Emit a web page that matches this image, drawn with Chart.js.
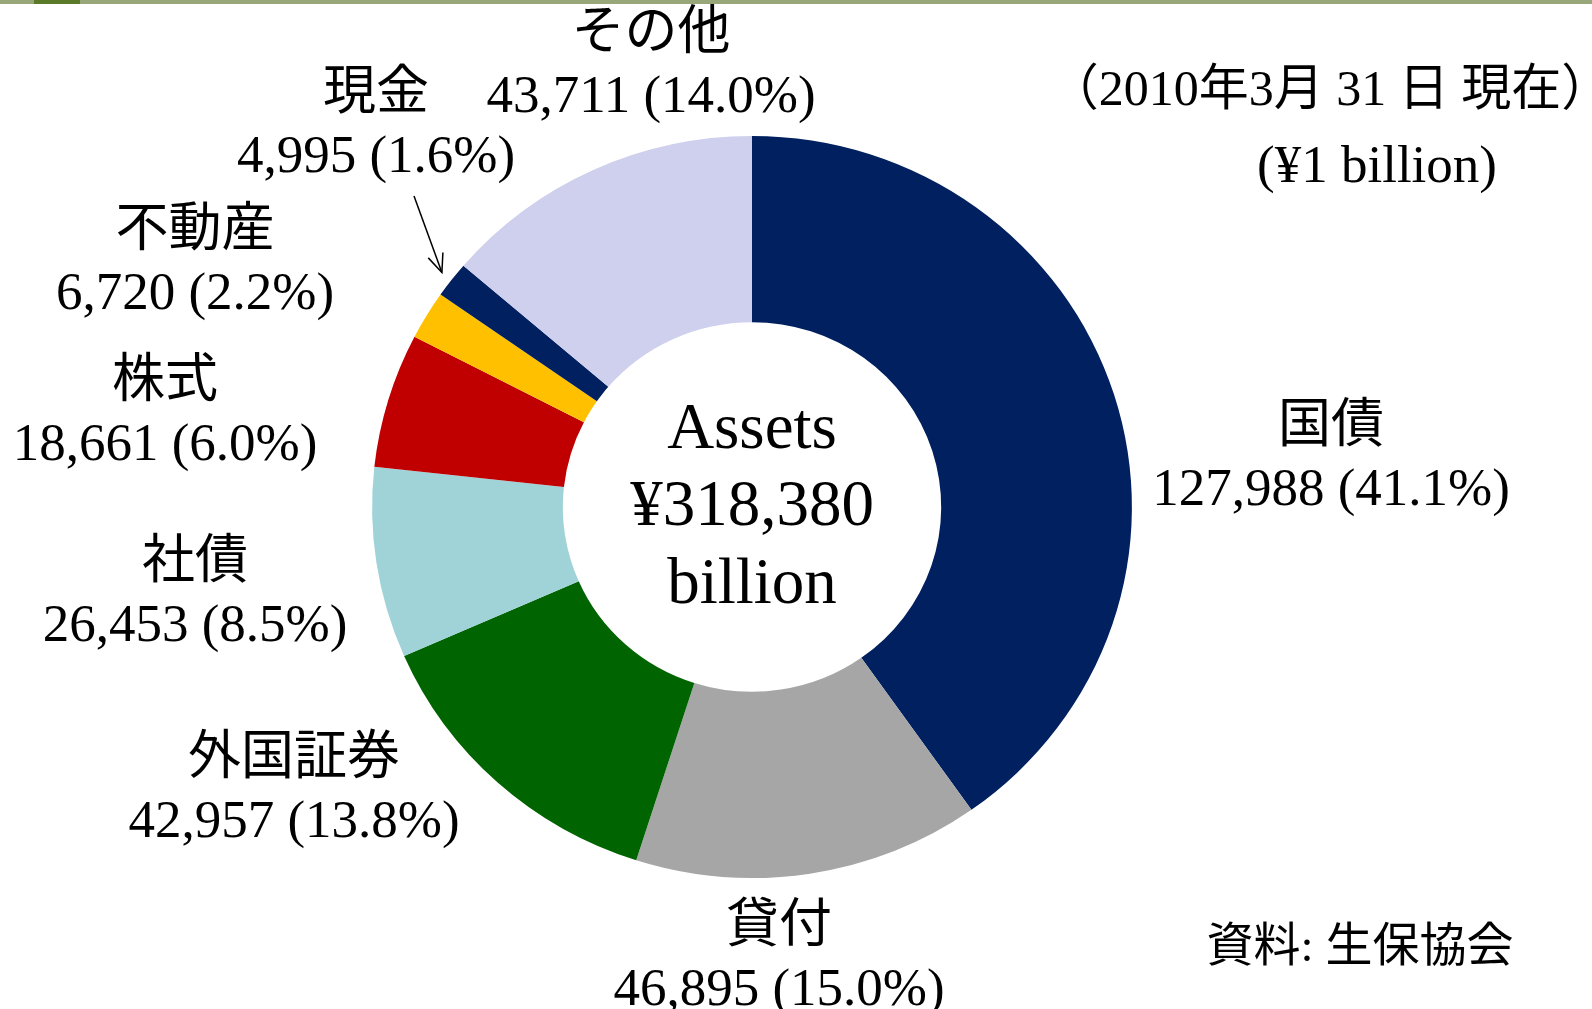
<!DOCTYPE html>
<html>
<head>
<meta charset="utf-8">
<script src="https://cdn.jsdelivr.net/npm/chart.js@4"></script>
<style>
    html, body { margin: 0; padding: 0; background: #fff; }
    #wrap { position: relative; width: 1592px; height: 1009px; }
    #bar { position: absolute; left: 0; top: 0; width: 1592px; height: 4px; background: #98a77a; }
    #bar2 { position: absolute; left: 34px; top: 0; width: 46px; height: 4px; background: #5a7a2a; }
</style>
</head>
<body>
<div id="wrap">
    <canvas id="c" width="1592" height="1009"></canvas>
    <div id="bar"></div><div id="bar2"></div>
</div>
<script>
const categories = ["国債", "貸付", "外国証券", "社債", "株式", "不動産", "現金", "その他"];
const amounts = [127988, 46895, 42957, 26453, 18661, 6720, 4995, 43711];
const shares = ["41.1%", "15.0%", "13.8%", "8.5%", "6.0%", "2.2%", "1.6%", "14.0%"];
const colors = ["#002060", "#a6a6a6", "#006400", "#a0d3d8", "#c00000", "#ffc000", "#002060", "#cfcfee"];
const totalText = ["Assets", "¥318,380", "billion"];
const noteText = ["（2010年3月 31 日 現在）", "(¥1 billion)"];
const sourceText = "資料: 生保協会";

// label anchor points (name line centre) for each slice
const labelPos = [[1331, 428], [779, 928], [294, 760], [195, 564], [165, 383], [195, 232], [376, 95], [651, 35]];

const FONT = '"Liberation Serif", "Noto Sans CJK JP", serif';
const STRETCH = 1.024; // the pie in the picture is a little wider than tall

const stretchPlugin = {
    id: "stretch",
    beforeDatasetsDraw(chart) {
        const a = chart.getDatasetMeta(0).data[0];
        const ctx = chart.ctx;
        ctx.save();
        ctx.translate(a.x, a.y);
        ctx.scale(STRETCH, 1);
        ctx.translate(-a.x, -a.y);
    },
    afterDatasetsDraw(chart) {
        chart.ctx.restore();
    },
};

const labelsPlugin = {
    id: "labels",
    afterDraw(chart) {
        const ctx = chart.ctx;
        const arcs = chart.getDatasetMeta(0).data;
        ctx.save();
        ctx.fillStyle = "#000";
        ctx.textAlign = "center";
        ctx.textBaseline = "middle";

        // slice labels
        categories.forEach((name, i) => {
            const [x, y] = labelPos[i];
            ctx.font = "53px " + FONT;
            ctx.fillText(name, x, y);
            ctx.fillText(amounts[i].toLocaleString("en-US") + " (" + shares[i] + ")", x, y + 63);
        });

        // centre text
        const cx = arcs[0].x, cy = arcs[0].y;
        ctx.font = "65px " + FONT;
        ctx.fillText(totalText[0], cx, cy - 76);
        ctx.fillText(totalText[1], cx, cy + 1);
        ctx.fillText(totalText[2], cx, cy + 79);

        // notes
        ctx.font = "50px " + FONT;
        ctx.fillText(noteText[0], 1330, 92);
        ctx.font = "53px " + FONT;
        ctx.fillText(noteText[1], 1377, 168);
        ctx.font = "47px " + FONT;
        ctx.fillText(sourceText, 1360, 949);

        // arrow to the small 現金 slice
        const a = arcs[6];
        const mid = (a.startAngle + a.endAngle) / 2;
        const r = a.outerRadius + 12;
        const tx = a.x + Math.cos(mid) * r * STRETCH, ty = a.y + Math.sin(mid) * r;
        const sx = 414, sy = 196;
        ctx.strokeStyle = "#000";
        ctx.lineWidth = 1.5;
        ctx.beginPath();
        ctx.moveTo(sx, sy);
        ctx.lineTo(tx, ty);
        ctx.stroke();
        const ang = Math.atan2(ty - sy, tx - sx);
        ctx.beginPath();
        ctx.moveTo(tx - Math.cos(ang - 0.4) * 20, ty - Math.sin(ang - 0.4) * 20);
        ctx.lineTo(tx, ty);
        ctx.lineTo(tx - Math.cos(ang + 0.4) * 20, ty - Math.sin(ang + 0.4) * 20);
        ctx.stroke();
        ctx.restore();
    },
};

new Chart(document.getElementById("c"), {
    type: "doughnut",
    data: {
        labels: categories,
        datasets: [
            {
                data: amounts,
                backgroundColor: colors,
                borderWidth: 0,
            },
        ],
    },
    options: {
        responsive: false,
        animation: false,
        cutout: "49.8%",
        layout: {
            padding: { left: 381, right: 469, top: 136, bottom: 131 },
        },
        plugins: {
            legend: { display: false },
            tooltip: { enabled: false },
        },
    },
    plugins: [stretchPlugin, labelsPlugin],
});
</script>
</body>
</html>
